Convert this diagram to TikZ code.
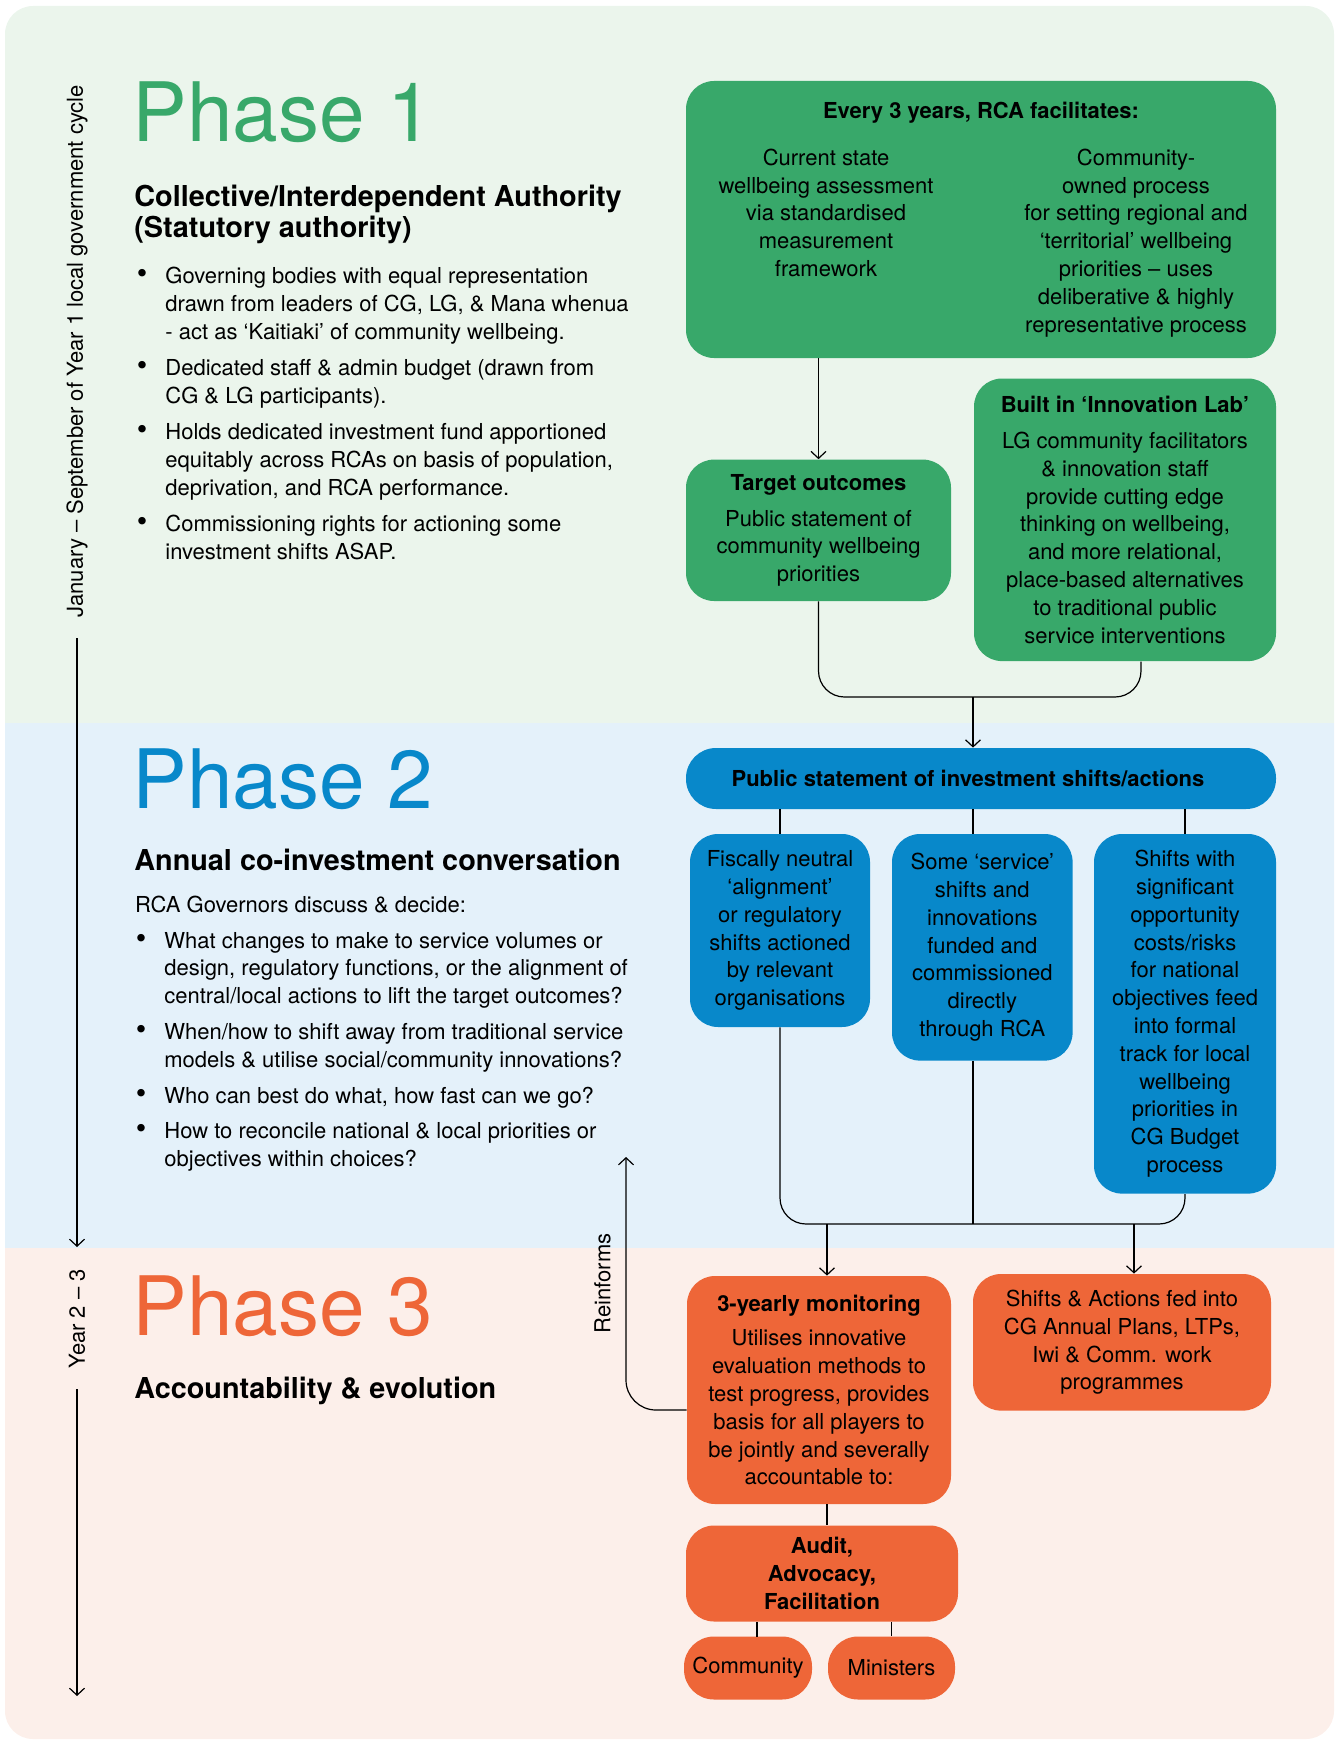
\documentclass[tikz,border=0pt]{standalone}
\usepackage{fontspec}
\setmainfont{TeX Gyre Heros}
\usetikzlibrary{arrows.meta}
\definecolor{pone}{RGB}{56,168,106}
\definecolor{ptwo}{RGB}{8,136,202}
\definecolor{pthree}{RGB}{238,102,56}
\definecolor{bgone}{RGB}{235,245,236}
\definecolor{bgtwo}{RGB}{228,241,250}
\definecolor{bgthree}{RGB}{252,239,234}
\newcommand{\dotmark}{\llap{{\fontsize{15}{13.9}\selectfont\textbullet}\hspace{9pt}}}

\begin{document}
\begin{tikzpicture}[x=0.5pt,y=-0.5pt,
  txt/.style={font=\fontsize{11}{13.9}\selectfont},
  box/.style={txt,rounded corners=14pt,align=center,inner sep=0pt},
  gbox/.style={box,fill=pone},
  bbox/.style={box,fill=ptwo},
  obox/.style={box,fill=pthree},
  phase/.style={anchor=base west,inner sep=0pt,font=\fontsize{41}{41}\selectfont},
  sub/.style={anchor=base west,inner sep=0pt,align=left,font=\fontsize{14.4}{15.8}\selectfont\bfseries},
  bul/.style={txt,anchor=base west,inner sep=0pt,align=left},
  line/.style={line width=0.6pt},
  arr/.style={line,-{Straight Barb[length=3.5pt,width=7.5pt]}}]
\useasboundingbox (0,0) rectangle (1339,1744);
% Bands
\begin{scope}
\clip [rounded corners=14pt] (5,6) rectangle (1334,1739);
\fill [bgone] (0,0) rectangle (1339,723);
\fill [bgtwo] (0,723) rectangle (1339,1248);
\fill [bgthree] (0,1248) rectangle (1339,1744);
\end{scope}
%
% Timeline
\node [txt,rotate=90,anchor=west,inner xsep=10pt,inner ysep=0pt] (cycone) at (77,638) {January – September of Year 1 local government cycle};
\coordinate (cyconeend) at (77,1247);
\draw [arr] (cycone) -- (cyconeend);
\node [txt,rotate=90,anchor=west,inner xsep=10pt,inner ysep=0pt] (cyctwo) at (77,1389) {Year 2 – 3};
\coordinate (cyctwoend) at (77,1696);
\draw [arr] (cyctwo) -- (cyctwoend);
%
% Phase 1 (multi-line nodes sit on their last baseline)
\node [phase,text=pone] (titleone) at (132,141.6) {Phase 1};
\node [sub] (subone) at (134,238) {Collective/Interdependent Authority\\(Statutory authority)};
\node [bul] (listone) at (165,559.5) {\dotmark Governing bodies with equal representation\\drawn from leaders of CG, LG, \& Mana whenua\\- act as ‘Kaitiaki’ of community wellbeing.\\[4.3pt]
\dotmark Dedicated staff \& admin budget (drawn from\\CG \& LG participants).\\[4.3pt]
\dotmark Holds dedicated investment fund apportioned\\equitably across RCAs on basis of population,\\deprivation, and RCA performance.\\[4.3pt]
\dotmark Commissioning rights for actioning some\\investment shifts ASAP.};
%
\node [gbox,minimum width=295pt,minimum height=138.5pt] (every) at (981,219.5) {\textbf{Every 3 years, RCA facilitates:}\\[9.5pt]
\parbox[t]{120pt}{\centering Current state\\wellbeing assessment\\via standardised\\measurement\\framework}\hspace{35pt}\parbox[t]{120pt}{\centering Community-\\owned process\\for setting regional and\\‘territorial’ wellbeing\\priorities – uses\\deliberative \& highly\\representative process}};
\node [gbox,minimum width=132.5pt,minimum height=70.7pt] (tgt) at (818.5,530.3) {\textbf{Target outcomes}\\[4pt]Public statement of\\community wellbeing\\priorities};
\node [gbox,minimum width=151pt,minimum height=141.3pt] (lab) at (1125,519.8) {\textbf{Built in ‘Innovation Lab’}\\[4pt]LG community facilitators\\\& innovation staff\\provide cutting edge\\thinking on wellbeing,\\and more relational,\\place-based alternatives\\to traditional public\\service interventions};
\draw [arr] (tgt.north |- every.south) -- (tgt.north);
\coordinate (mergeone) at (973,697);
\draw [line,rounded corners=13pt] (tgt.south) |- (mergeone) -| ([xshift=8pt]lab.south);
%
% Phase 2
\node [phase,text=ptwo] (titletwo) at (132,808.3) {Phase 2};
\node [sub] (subtwo) at (134,870) {Annual co-investment conversation};
\node [bul] (introtwo) at (134.7,912.7) {RCA Governors discuss \& decide:};
\node [bul] (listtwo) at (164,1166.7) {\dotmark What changes to make to service volumes or\\design, regulatory functions, or the alignment of\\central/local actions to lift the target outcomes?\\[4pt]
\dotmark When/how to shift away from traditional service\\models \& utilise social/community innovations?\\[4pt]
\dotmark Who can best do what, how fast can we go?\\[4pt]
\dotmark How to reconcile national \& local priorities or\\objectives within choices?};
%
\node [bbox,rounded corners=15pt,minimum width=295pt,minimum height=30.5pt] (pub) at (981,778.5) {\textbf{Public statement of investment shifts/actions}\hspace*{13pt}};
\draw [arr] (mergeone) -- (mergeone |- pub.north);
\node [bbox,minimum width=90pt,minimum height=96.5pt] (fisc) at (780,930.5) {Fiscally neutral\\‘alignment’\\or regulatory\\shifts actioned\\by relevant\\organisations};
\node [bbox,minimum width=90.3pt,minimum height=113.3pt] (serv) at (982.3,947.3) {Some ‘service’\\shifts and\\innovations\\funded and\\commissioned\\directly\\through RCA};
\node [bbox,minimum width=91pt,minimum height=179.8pt] (budg) at (1185,1013.8) {Shifts with\\significant\\opportunity\\costs/risks\\for national\\objectives feed\\into formal\\track for local\\wellbeing\\priorities in\\CG Budget\\process};
\draw [line] (fisc.north |- pub.south) -- (fisc.north);
\draw [line] (mergeone |- pub.south) -- (mergeone |- serv.north);
\draw [line] (budg.north |- pub.south) -- (budg.north);
\coordinate (mergetwo) at (973,1224);
\draw [line,rounded corners=13pt] (fisc.south) |- (mergetwo) -| (budg.south);
\draw [line] (mergetwo |- serv.south) -- (mergetwo);
%
% Phase 3
\node [phase,text=pthree] (titlethree) at (132,1335) {Phase 3};
\node [sub] (subthree) at (134,1398) {Accountability \& evolution};
%
\node [obox,minimum width=132pt,minimum height=114pt] (mon) at (819,1390) {\textbf{3-yearly monitoring}\\[3.5pt]Utilises innovative\\evaluation methods to\\test progress, provides\\basis for all players to\\be jointly and severally\\accountable to:};
\node [obox,minimum width=149pt,minimum height=68.3pt] (plans) at (1122,1342.3) {Shifts \& Actions fed into\\CG Annual Plans, LTPs,\\Iwi \& Comm. work\\programmes};
\node [obox,minimum width=136pt,minimum height=48pt] (aud) at (822,1573.5) {\textbf{Audit,}\\\textbf{Advocacy,}\\\textbf{Facilitation}};
\node [obox,rounded corners=15pt,minimum width=64pt,minimum height=31.5pt] (comm) at (748,1668) {Community};
\node [obox,rounded corners=15pt,minimum width=63.5pt,minimum height=31.5pt] (mins) at (891.5,1668) {Ministers};
\coordinate (dropl) at (827,1224);
\coordinate (dropr) at (1134,1224);
\draw [arr] (dropl) -- (dropl |- mon.north);
\draw [arr] (dropr) -- (dropr |- plans.north);
\draw [line] (dropl |- mon.south) -- (dropl |- aud.north);
\coordinate (commtop) at (757,1637);
\draw [line] (commtop |- aud.south) -- (commtop);
\draw [line] (mins.north |- aud.south) -- (mins.north);
\coordinate (reinf) at (626,1157);
\draw [arr,rounded corners=15pt] ([yshift=-10pt]mon.west) -| (reinf) node (reinflab) [txt,pos=0.75,sloped,above=4pt] {Reinforms};
%
\end{tikzpicture}
\end{document}
